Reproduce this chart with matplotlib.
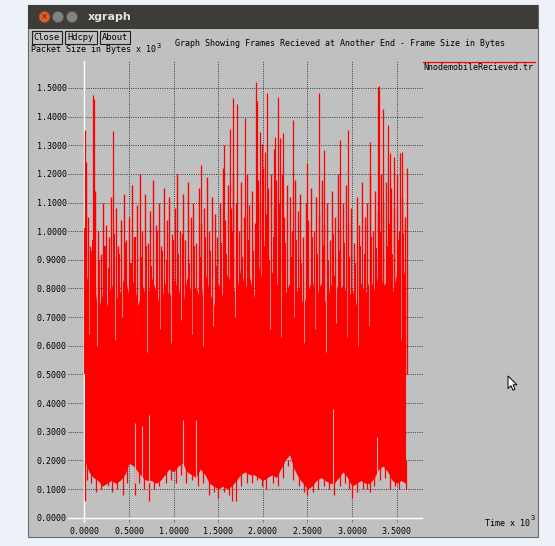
import numpy as np
import matplotlib.pyplot as plt
from matplotlib.patches import Rectangle, Circle, Polygon

MONO = 'DejaVu Sans Mono'
W, H = 555, 546

# time axis samples (x 10^3) for the dense band of the trace
band_x = np.round(np.arange(0, 3.6001, 0.05), 2)
band_low = [0.20, 0.16, 0.14, 0.13, 0.11, 0.12, 0.13, 0.12, 0.13, 0.15,
            0.19, 0.18, 0.16, 0.14, 0.13, 0.13, 0.12, 0.13, 0.15, 0.17,
            0.16, 0.18, 0.19, 0.16, 0.15, 0.14, 0.17, 0.15, 0.12, 0.11,
            0.10, 0.11, 0.10, 0.11, 0.13, 0.15, 0.16, 0.15, 0.15, 0.14,
            0.13, 0.14, 0.15, 0.14, 0.17, 0.20, 0.22, 0.17, 0.14, 0.12,
            0.10, 0.11, 0.13, 0.14, 0.13, 0.12, 0.12, 0.14, 0.16, 0.14,
            0.11, 0.12, 0.13, 0.12, 0.12, 0.14, 0.17, 0.18, 0.16, 0.13,
            0.12, 0.13, 0.12]
band_top = [0.88, 0.80, 0.84, 0.72, 0.78, 0.74, 0.82, 0.76, 0.79, 0.85,
            0.77, 0.83, 0.74, 0.81, 0.76, 0.84, 0.79, 0.73, 0.82, 0.77,
            0.83, 0.80, 0.74, 0.84, 0.78, 0.81, 0.75, 0.86, 0.79, 0.74,
            0.82, 0.77, 0.85, 0.81, 0.78, 0.87, 0.80, 0.84, 0.77, 0.88,
            0.82, 0.79, 0.86, 0.81, 0.84, 0.78, 0.82, 0.76, 0.81, 0.74,
            0.79, 0.83, 0.77, 0.82, 0.75, 0.80, 0.85, 0.78, 0.82, 0.76,
            0.80, 0.74, 0.82, 0.78, 0.84, 0.79, 0.86, 0.81, 0.83, 0.78,
            0.85, 0.81, 0.88]

# frame size peaks above the band (x 10^3 bytes)
peak_x = [0.02, 0.04, 0.06, 0.12, 0.15, 0.18, 0.21, 0.24, 0.27, 0.30,
          0.35, 0.38, 0.41, 0.44, 0.47, 0.50, 0.53, 0.56, 0.59, 0.62,
          0.65, 0.68, 0.71, 0.74, 0.77, 0.80, 0.83, 0.86, 0.89, 0.92,
          0.95, 0.98, 1.01, 1.04, 1.07, 1.10, 1.13, 1.16, 1.19, 1.22,
          1.25, 1.28, 1.31, 1.34, 1.37, 1.40, 1.43, 1.46, 1.49, 1.52,
          1.55, 1.58, 1.61, 1.64, 1.67, 1.70, 1.73, 1.76, 1.79, 1.82,
          1.85, 1.88, 1.91, 1.94, 1.97, 2.00, 2.03, 2.06, 2.09, 2.12,
          2.15, 2.18, 2.21, 2.24, 2.27, 2.30, 2.33, 2.36, 2.39, 2.42,
          2.45, 2.48, 2.51, 2.54, 2.57, 2.60, 2.63, 2.66, 2.69, 2.72,
          2.75, 2.78, 2.81, 2.84, 2.87, 2.90, 2.93, 2.96, 2.99, 3.02,
          3.05, 3.08, 3.11, 3.14, 3.17, 3.20, 3.23, 3.26, 3.29, 3.32,
          3.35, 3.38, 3.41, 3.44, 3.47, 3.50, 3.53, 3.56, 3.59]
peak_y = [1.24, 1.05, 0.95, 1.14, 1.00, 0.92, 1.10, 1.02, 0.98, 1.12,
          1.08, 0.95, 1.04, 1.13, 0.97, 1.05, 1.16, 0.98, 1.09, 1.20,
          1.00, 1.13, 0.96, 1.07, 1.18, 1.02, 1.10, 0.95, 1.15, 1.04,
          1.12, 0.99, 1.08, 1.20, 1.00, 1.13, 0.97, 1.17, 1.05, 1.10,
          0.96, 1.15, 1.03, 1.08, 1.19, 1.00, 1.12, 1.06, 0.98, 1.10,
          1.22, 1.04, 1.16, 1.08, 1.20, 1.10, 1.00, 1.17, 1.05, 1.20,
          1.09, 1.14, 1.03, 1.18, 1.10, 1.22, 1.06, 1.15, 1.20, 1.08,
          1.18, 1.10, 1.20, 1.05, 1.16, 1.12, 1.00, 1.18, 1.07, 1.13,
          0.98, 1.10, 1.04, 1.15, 1.00, 1.12, 1.06, 1.18, 1.02, 1.10,
          0.97, 1.14, 1.05, 1.20, 1.00, 1.10, 1.16, 1.03, 1.08, 0.96,
          1.12, 1.02, 1.17, 1.05, 1.10, 1.20, 1.00, 1.14, 1.07, 1.20,
          1.10, 1.17, 1.03, 1.15, 1.08, 1.20, 1.00, 1.12, 1.05]

# secondary peaks between the band and the main peaks
mid_x = [0.01, 0.08, 0.10, 0.16, 0.23, 0.28, 0.33, 0.39, 0.45, 0.52,
         0.57, 0.63, 0.69, 0.75, 0.81, 0.87, 0.93, 0.99, 1.05, 1.11,
         1.17, 1.23, 1.29, 1.35, 1.41, 1.47, 1.53, 1.59, 1.65, 1.71,
         1.77, 1.83, 1.89, 1.95, 2.01, 2.07, 2.13, 2.19, 2.25, 2.31,
         2.37, 2.43, 2.49, 2.55, 2.61, 2.67, 2.73, 2.79, 2.85, 2.91,
         2.97, 3.03, 3.09, 3.15, 3.21, 3.27, 3.33, 3.39, 3.45, 3.51,
         3.57]
mid_y = [1.01, 0.93, 0.97, 0.90, 0.95, 0.87, 0.99, 0.92, 0.96, 0.89,
         0.98, 0.91, 0.95, 0.88, 1.00, 0.93, 0.90, 0.97, 0.92, 0.99,
         0.89, 0.95, 0.91, 0.98, 0.93, 0.88, 0.96, 0.92, 1.00, 0.94,
         0.91, 0.97, 0.93, 1.01, 0.95, 0.90, 0.98, 0.94, 0.96, 0.91,
         0.97, 0.89, 0.94, 0.98, 0.92, 0.95, 0.90, 0.99, 0.93, 0.96,
         0.91, 0.89, 0.95, 0.92, 0.98, 0.94, 1.00, 0.95, 0.92, 0.97,
         0.99]

# tallest peaks
tall_x = [0.008, 0.09, 0.103, 0.325, 1.308, 1.566, 1.633, 1.670, 1.708, 1.80,
          1.921, 1.939, 1.97, 1.989, 2.026, 2.045, 2.13, 2.141, 2.168, 2.194,
          2.231, 2.336, 2.50, 2.631, 2.687, 2.867, 2.953, 3.203, 3.289, 3.304,
          3.352, 3.408, 3.427, 3.472, 3.539, 3.558, 3.614]
tall_y = [1.354, 1.476, 1.461, 1.35, 1.23, 1.30, 1.358, 1.465, 1.444, 1.395,
          1.52, 1.455, 1.347, 1.305, 1.278, 1.484, 1.288, 1.327, 1.467, 1.325,
          1.343, 1.387, 1.238, 1.482, 1.284, 1.319, 1.352, 1.313, 1.503, 1.505,
          1.428, 1.369, 1.272, 1.259, 1.272, 1.275, 1.22]

# dips below the band
dip_x = [0.01, 0.03, 0.07, 0.13, 0.19, 0.26, 0.31, 0.37, 0.43, 0.48,
         0.57, 0.61, 0.67, 0.72, 0.78, 0.84, 0.91, 0.97, 1.03, 1.08,
         1.14, 1.21, 1.27, 1.33, 1.40, 1.45, 1.50, 1.56, 1.62, 1.65,
         1.70, 1.76, 1.82, 1.88, 1.93, 1.99, 2.04, 2.11, 2.17, 2.23,
         2.28, 2.34, 2.41, 2.46, 2.50, 2.56, 2.62, 2.68, 2.74, 2.80,
         2.86, 2.92, 2.97, 3.00, 3.06, 3.12, 3.17, 3.20, 3.25, 3.31,
         3.37, 3.43, 3.48, 3.53, 3.60]
dip_y = [0.06, 0.13, 0.12, 0.09, 0.10, 0.11, 0.09, 0.10, 0.08, 0.12,
         0.08, 0.12, 0.10, 0.06, 0.10, 0.11, 0.12, 0.13, 0.12, 0.15,
         0.12, 0.13, 0.11, 0.12, 0.08, 0.09, 0.07, 0.09, 0.08, 0.06,
         0.06, 0.11, 0.12, 0.12, 0.13, 0.11, 0.10, 0.12, 0.11, 0.14,
         0.18, 0.13, 0.11, 0.09, 0.08, 0.09, 0.10, 0.11, 0.10, 0.08,
         0.11, 0.12, 0.10, 0.07, 0.09, 0.10, 0.10, 0.09, 0.11, 0.13,
         0.14, 0.10, 0.11, 0.10, 0.10]

# gaps where the trace drops inside the upper band
notch_x = [0.055, 0.14, 0.205, 0.345, 0.425, 0.585, 0.705, 0.845, 0.965, 1.085,
           1.205, 1.325, 1.445, 1.565, 1.685, 1.805, 1.925, 2.085, 2.205, 2.345,
           2.465, 2.585, 2.705, 2.825, 2.945, 3.065, 3.185, 3.305, 3.425, 3.545]
notch_y = [0.64, 0.60, 0.68, 0.62, 0.70, 0.63, 0.58, 0.66, 0.61, 0.69,
           0.64, 0.60, 0.67, 0.62, 0.70, 0.65, 0.59, 0.66, 0.63, 0.70,
           0.61, 0.66, 0.58, 0.68, 0.63, 0.60, 0.67, 0.64, 0.69, 0.62]

# light streaks through the band
streak_x = [0.563, 0.643, 0.722, 1.10, 1.25, 2.786, 3.28]
streak_y = [0.33, 0.32, 0.36, 0.34, 0.34, 0.38, 0.28]

y_ticks = np.round(np.arange(0, 1.501, 0.1), 1)
x_ticks = np.round(np.arange(0, 3.501, 0.5), 1)

fig = plt.figure(figsize=(W / 100, H / 100), dpi=100)
fig.patch.set_facecolor('#edf1f8')

# window chrome in pixel coordinates
bg = fig.add_axes([0, 0, 1, 1])
bg.set_xlim(0, W)
bg.set_ylim(H, 0)
bg.axis('off')
bg.add_patch(Rectangle((28, 5), 510, 532, fc='#c0c0c0', ec='#6a6a6a', lw=0.8))
bg.add_patch(Rectangle((28, 5), 510, 24, fc='#3d3c38', ec='none'))
bg.add_patch(Circle((44.5, 17), 5.5, fc='#df5f2e', ec='#9c4320', lw=0.6))
bg.add_patch(Circle((58, 17), 5.5, fc='#858380', ec='#5a5955', lw=0.6))
bg.add_patch(Circle((72, 17), 5.5, fc='#858380', ec='#5a5955', lw=0.6))
bg.text(44.5, 17, '×', color='#5a1f0c', fontsize=6, ha='center', va='center')
bg.text(88, 17, 'xgraph', color='#e6e3dc', fontsize=8, fontweight='bold',
        ha='left', va='center')

bg.text(31, 49, 'Packet Size in Bytes x 10', family=MONO, fontsize=6,
        ha='left', va='center', zorder=3)
bg.text(157, 45.5, '3', family=MONO, fontsize=5, ha='left', va='center', zorder=3)
bg.text(175, 43, 'Graph Showing Frames Recieved at Another End - Frame Size in Bytes',
        family=MONO, fontsize=6, ha='left', va='center')
for label, x0, w in [('Close', 31.5, 30), ('Hdcpy', 65, 31.5), ('About', 99.5, 30.5)]:
    bg.add_patch(Rectangle((x0, 31), w, 13, fc='#c0c0c0', ec='#202020', lw=0.8, zorder=5))
    bg.text(x0 + w / 2, 37.5, label, family=MONO, fontsize=6.3,
            ha='center', va='center', zorder=6)

bg.plot([423, 535], [61.5, 61.5], color='#ff0000', lw=0.9)
bg.text(423, 67, 'NnodemobileRecieved.tr', family=MONO, fontsize=6,
        ha='left', va='center')
bg.text(485, 523, 'Time x 10', family=MONO, fontsize=6, ha='left', va='center')
bg.text(530.5, 518.5, '3', family=MONO, fontsize=5, ha='left', va='center')

cursor = np.array([(0, 0), (0, 12.5), (3, 9.7), (5, 14.2), (7, 13.2), (5, 8.8), (9, 8.8)])
bg.add_patch(Polygon(cursor + [508, 376], closed=True, fc='white', ec='black',
                     lw=0.7, zorder=7))

# plot area
left, right, top, bottom = 68, 422.7, 61, 523
ax = fig.add_axes([left / W, 1 - bottom / H, (right - left) / W, (bottom - top) / H])
ax.patch.set_visible(False)
for s in ax.spines.values():
    s.set_visible(False)
ax.set_xlim(-0.185, 3.792)
ax.set_ylim(-0.0185, 1.594)
ax.set_xticks(x_ticks)
ax.set_yticks(y_ticks)
ax.set_xticklabels(['%.4f' % v for v in x_ticks], family=MONO)
ax.set_yticklabels(['%.4f' % v for v in y_ticks], family=MONO)
ax.tick_params(length=0, labelsize=6, colors='black')
ax.tick_params(axis='y', pad=0.8)
ax.tick_params(axis='x', pad=2.6)
ax.grid(True, color='#3c3c3c', linestyle=(0, (1, 1.3)), linewidth=0.7)
ax.set_axisbelow(True)
ax.axhline(0, color='white', lw=1.0, zorder=1)
ax.axvline(0, color='white', lw=1.0, zorder=1)

red = '#ff0000'
ax.fill_between(band_x, band_low, band_top, color=red, lw=0, zorder=2)
ax.vlines(notch_x, notch_y, 0.9, color='#c4b4b4', lw=0.8, zorder=2.5)
ax.vlines(mid_x, 0.5, mid_y, color=red, lw=1.4, zorder=3)
ax.vlines(peak_x, 0.5, peak_y, color=red, lw=1.0, zorder=3)
ax.vlines(tall_x, 0.5, tall_y, color=red, lw=0.9, zorder=3)
ax.vlines(dip_x, dip_y, 0.2, color=red, lw=0.9, zorder=3)
ax.vlines(streak_x, 0.12, streak_y, color='#eeaaaa', lw=0.8, zorder=3)

fig.savefig('out.png', dpi=100, facecolor=fig.get_facecolor())
